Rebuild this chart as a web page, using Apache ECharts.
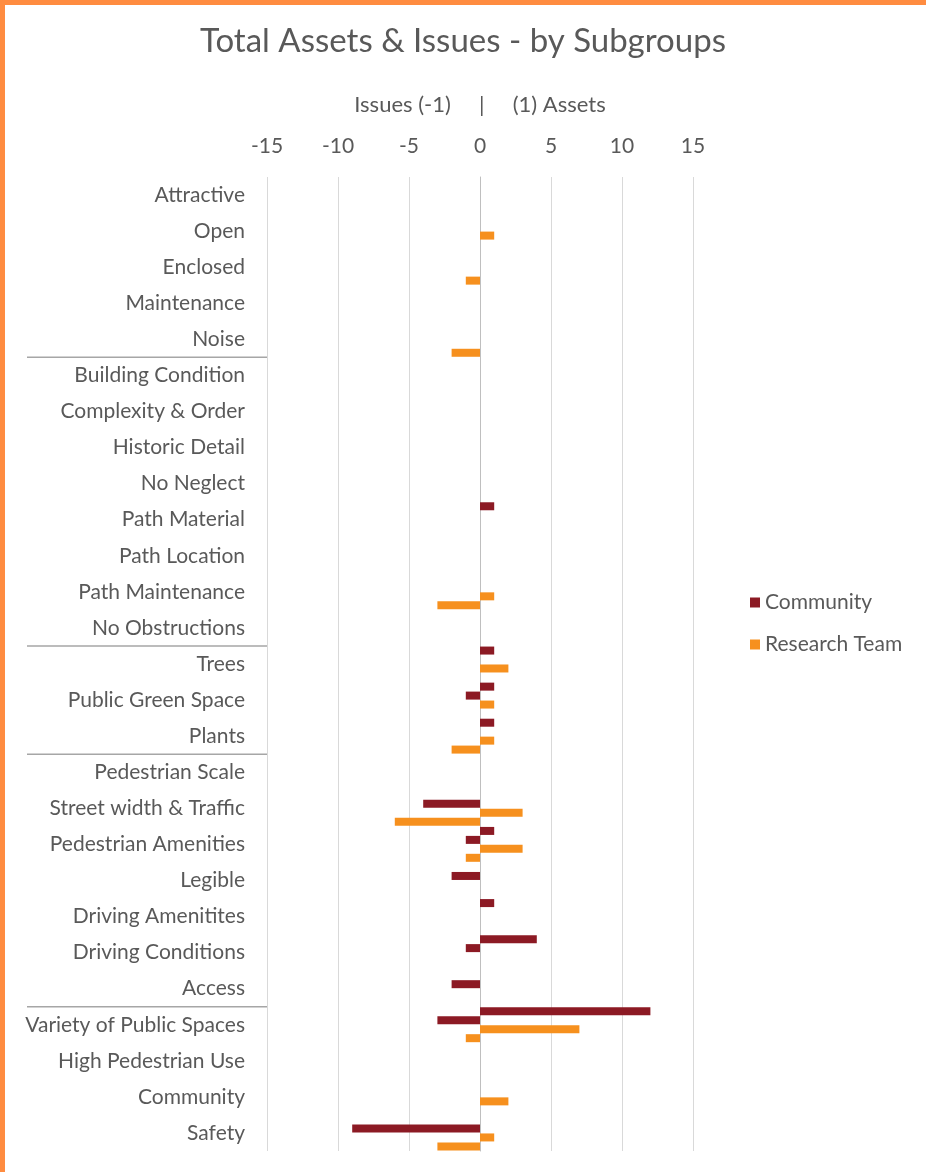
<!DOCTYPE html>
<html>
<head>
<meta charset="utf-8">
<title>Total Assets &amp; Issues - by Subgroups</title>
<script src="https://cdn.jsdelivr.net/npm/echarts@6/dist/echarts.min.js"></script>
<style>
  html, body { margin: 0; padding: 0; background: #ffffff; }
  #chart { width: 926px; height: 1172px; }
</style>
</head>
<body>
<div id="chart"></div>
<script>
// Subgroup names, top to bottom
const categories = [
  'Attractive', 'Open', 'Enclosed', 'Maintenance', 'Noise',
  'Building Condition', 'Complexity & Order', 'Historic Detail', 'No Neglect',
  'Path Material', 'Path Location', 'Path Maintenance', 'No Obstructions',
  'Trees', 'Public Green Space', 'Plants',
  'Pedestrian Scale', 'Street width & Traffic', 'Pedestrian Amenities', 'Legible',
  'Driving Amenitites', 'Driving Conditions', 'Access',
  'Variety of Public Spaces', 'High Pedestrian Use', 'Community', 'Safety'
];

// Assets count as +1, issues as -1
const communityAssets = [0, 0, 0, 0, 0, 0, 0, 0, 0, 1, 0, 0, 0, 1, 1, 1, 0, 0, 1, 0, 1, 4, 0, 12, 0, 0, 0];
const communityIssues = [0, 0, 0, 0, 0, 0, 0, 0, 0, 0, 0, 0, 0, 0, -1, 0, 0, -4, -1, -2, 0, -1, -2, -3, 0, 0, -9];
const researchAssets  = [0, 1, 0, 0, 0, 0, 0, 0, 0, 0, 0, 1, 0, 2, 1, 1, 0, 3, 3, 0, 0, 0, 0, 7, 0, 2, 1];
const researchIssues  = [0, 0, -1, 0, -2, 0, 0, 0, 0, 0, 0, -3, 0, 0, 0, -2, 0, -6, -1, 0, 0, 0, 0, -1, 0, 0, -3];

// Last subgroup index of each group (a rule is drawn below it)
const groupEnds = [4, 12, 15, 22];

const xTicks = { min: -15, max: 15, interval: 5 };

const COMMUNITY = '#8c1a24';
const RESEARCH = '#f6901e';
const TEXT = '#595959';
const FONT = 'Lato, "Open Sans", sans-serif';

const chart = echarts.init(document.getElementById('chart'), null, { renderer: 'canvas' });

function barSeries(name, data, color) {
  return {
    type: 'bar',
    name: name,
    data: data,
    barWidth: 8,
    barGap: '12%',
    itemStyle: { color: color },
    emphasis: { disabled: true },
    animation: false
  };
}

const option = {
  backgroundColor: '#ffffff',
  animation: false,
  textStyle: { fontFamily: FONT },
  title: {
    text: 'Total Assets & Issues - by Subgroups',
    left: 'center',
    top: 20,
    textStyle: { fontFamily: FONT, fontSize: 33, fontWeight: 'normal', color: TEXT }
  },
  legend: {
    orient: 'vertical',
    left: 745,
    top: 587,
    itemWidth: 10,
    itemHeight: 10,
    itemGap: 21,
    icon: 'rect',
    data: ['Community', 'Research Team'],
    textStyle: { fontFamily: FONT, fontSize: 21, color: TEXT }
  },
  grid: { left: 267, right: 233, top: 177, bottom: 21 },
  xAxis: {
    type: 'value',
    position: 'top',
    min: xTicks.min,
    max: xTicks.max,
    interval: xTicks.interval,
    name: 'Issues (-1)     |     (1) Assets',
    nameLocation: 'middle',
    nameGap: 61,
    nameTextStyle: { fontFamily: FONT, fontSize: 22, color: TEXT },
    axisLine: { show: false },
    axisTick: { show: false },
    axisLabel: { fontFamily: FONT, fontSize: 21, color: TEXT, margin: 20 },
    splitLine: { lineStyle: { color: '#d9d9d9', width: 1 } }
  },
  yAxis: {
    type: 'category',
    data: categories,
    inverse: true,
    axisLine: { show: true, lineStyle: { color: '#bfbfbf' } },
    axisTick: { show: false },
    axisLabel: { fontFamily: FONT, fontSize: 21, color: TEXT, margin: 22 }
  },
  series: [
    barSeries('Community', communityAssets, COMMUNITY),
    barSeries('Community', communityIssues, COMMUNITY),
    barSeries('Research Team', researchAssets, RESEARCH),
    barSeries('Research Team', researchIssues, RESEARCH)
  ]
};

chart.setOption(option);

// Frame and group separators, placed from the axis scales
function drawDecor() {
  const W = chart.getWidth();
  const H = chart.getHeight();
  const axisX = chart.convertToPixel({ xAxisIndex: 0 }, xTicks.min);
  const elements = [
    { type: 'rect', shape: { x: 0, y: 0, width: W, height: 5 }, style: { fill: '#ff8c40' }, z: 100 },
    { type: 'rect', shape: { x: 0, y: 0, width: 5, height: H }, style: { fill: '#ff8c40' }, z: 100 }
  ];
  groupEnds.forEach(function (i) {
    const y = (chart.convertToPixel({ yAxisIndex: 0 }, i) + chart.convertToPixel({ yAxisIndex: 0 }, i + 1)) / 2;
    elements.push({
      type: 'line',
      shape: { x1: 27, y1: y, x2: axisX, y2: y },
      style: { stroke: '#a6a6a6', lineWidth: 1.5 },
      z: 50
    });
  });
  chart.setOption({ graphic: { elements: elements } });
}
drawDecor();
</script>
</body>
</html>
